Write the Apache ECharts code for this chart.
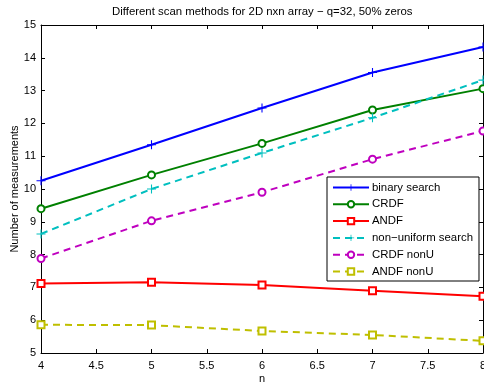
<!DOCTYPE html>
<html>
<head>
<meta charset="utf-8">
<script src="https://cdn.jsdelivr.net/npm/echarts@6/dist/echarts.min.js"></script>
<style>
  html, body { margin: 0; padding: 0; background: #fff; }
  #chart { width: 484px; height: 384px; }
</style>
</head>
<body>
<div id="chart"></div>
<script>
// 数据
const nValues = [4, 5, 6, 7, 8];
const binarySearch = [10.25, 11.35, 12.47, 13.55, 14.33];
const crdf = [9.4, 10.43, 11.39, 12.41, 13.06];
const andf = [7.12, 7.16, 7.07, 6.9, 6.73];
const nonUniform = [8.63, 10.0, 11.1, 12.17, 13.32];
const crdfNonU = [7.88, 9.03, 9.9, 10.91, 11.77];
const andfNonU = [5.86, 5.85, 5.67, 5.55, 5.37];

const plus = 'path://M-0.12,-1H0.12V-0.12H1V0.12H0.12V1H-0.12V0.12H-1V-0.12H-0.12Z';
const font = 'Liberation Sans, Arial, sans-serif';

function mk(name, values, color, symbol, dashed) {
  const isPlus = symbol === plus;
  return {
    name,
    type: 'line',
    data: nValues.map((n, i) => [n, values[i]]),
    symbol,
    symbolSize: isPlus ? 9 : 7,
    showSymbol: true,
    clip: false,
    lineStyle: { color, width: 2, type: dashed ? [7, 5] : 'solid' },
    itemStyle: isPlus ? { color, borderWidth: 0 } : { color, borderColor: color, borderWidth: 1.6 },
    emphasis: { disabled: true },
    animation: false,
    z: 3
  };
}

const chart = echarts.init(document.getElementById('chart'));
chart.setOption({
  backgroundColor: '#fff',
  animation: false,
  title: {
    text: 'Different scan methods for 2D nxn array \u2212 q=32, 50% zeros',
    left: 112, top: 6,
    padding: 0,
    textStyle: { fontFamily: font, fontSize: 11.4, fontWeight: 'normal', color: '#000' }
  },
  grid: { left: 41, right: 1, top: 25, bottom: 31, outerBoundsMode: 'none', containLabel: false },
  legend: {
    orient: 'vertical',
    left: 327, top: 177,
    width: 150,
    backgroundColor: '#fff',
    borderColor: '#000',
    borderWidth: 1,
    padding: [5, 6, 4, 5],
    itemWidth: 36,
    itemHeight: 8,
    itemGap: 5.8,
    textStyle: { fontFamily: font, fontSize: 11.4, color: '#000', padding: [0, 0, 0, -2] },
    data: ['binary search', 'CRDF', 'ANDF', 'non\u2212uniform search', 'CRDF nonU', 'ANDF nonU']
  },
  xAxis: [{
    type: 'value', min: 4, max: 8, interval: 0.5,
    name: 'n', nameLocation: 'middle', nameGap: 20, nameMoveOverlap: false,
    nameTextStyle: { fontFamily: font, fontSize: 11, color: '#000' },
    axisLine: { lineStyle: { color: '#000', width: 1 } },
    axisTick: { inside: true, length: 4, lineStyle: { color: '#000' } },
    axisLabel: { fontFamily: font, fontSize: 11, color: '#000', margin: 7, showMaxLabel: true },
    splitLine: { show: false }
  }, {
    type: 'value', min: 4, max: 8, interval: 0.5, position: 'top',
    axisLine: { show: true, lineStyle: { color: '#000', width: 1 } },
    axisTick: { inside: true, length: 4, lineStyle: { color: '#000' } },
    axisLabel: { show: false },
    splitLine: { show: false }
  }],
  yAxis: [{
    type: 'value', min: 5, max: 15, interval: 1,
    name: 'Number of measurements', nameLocation: 'middle', nameGap: 21, nameMoveOverlap: false,
    nameTextStyle: { fontFamily: font, fontSize: 11, color: '#000' },
    axisLine: { show: true, lineStyle: { color: '#000', width: 1 } },
    axisTick: { show: true, inside: true, length: 4, lineStyle: { color: '#000' } },
    axisLabel: { fontFamily: font, fontSize: 11, color: '#000', margin: 5 },
    splitLine: { show: false }
  }, {
    type: 'value', min: 5, max: 15, interval: 1, position: 'right',
    axisLine: { show: true, lineStyle: { color: '#000', width: 1 } },
    axisTick: { show: true, inside: true, length: 4, lineStyle: { color: '#000' } },
    axisLabel: { show: false },
    splitLine: { show: false }
  }],
  series: [
    mk('binary search', binarySearch, '#0000ff', plus, false),
    mk('CRDF', crdf, '#008000', 'emptyCircle', false),
    mk('ANDF', andf, '#ff0000', 'emptyRect', false),
    mk('non\u2212uniform search', nonUniform, '#00bfbf', plus, true),
    mk('CRDF nonU', crdfNonU, '#bf00bf', 'emptyCircle', true),
    mk('ANDF nonU', andfNonU, '#bfbf00', 'emptyRect', true)
  ]
});
</script>
</body>
</html>
